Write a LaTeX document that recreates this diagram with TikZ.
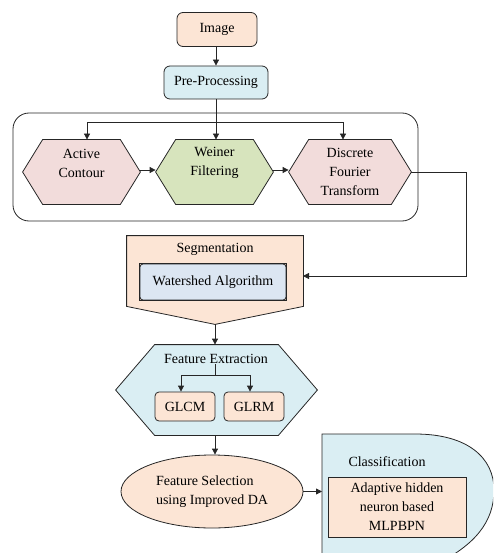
\documentclass[tikz,border=0pt]{standalone}
\usepackage{fontspec}
\setmainfont{Liberation Serif}
\usetikzlibrary{arrows.meta,shapes.geometric}
\definecolor{peach}{HTML}{FCE5D5}
\definecolor{lblue}{HTML}{DAEEF3}
\definecolor{hpink}{HTML}{F2DCDB}
\definecolor{hgreen}{HTML}{D7E4BD}
\definecolor{wsblue}{HTML}{DCE6F2}
\definecolor{edge}{HTML}{262626}
\newcommand\hexa[3]{\draw[fill=#3] (#1.west) -- ([xshift=#2pt]#1.north west) -- ([xshift=-#2pt]#1.north east) -- (#1.east) -- ([xshift=-#2pt]#1.south east) -- ([xshift=#2pt]#1.south west) -- cycle;}
\tikzset{
  base/.style={draw=edge, line width=0.8pt, align=center, inner sep=0pt},
  rbox/.style={base, rounded corners=6pt},
  holder/.style={inner sep=0pt, minimum width=#1},
  lbl/.style={inner sep=0pt, align=center},
  arr/.style={-{Triangle[length=6pt,width=6pt]}, line width=0.8pt, draw=edge},
}
\begin{document}
\begin{tikzpicture}[x=1pt,y=-1pt, font=\fontsize{14}{19}\selectfont, line width=0.8pt, draw=edge]
\useasboundingbox (0,0) rectangle (493,553);
\clip (0,0) rectangle (493,553);

% top
\node[rbox, fill=peach, minimum width=80pt, minimum height=34pt] (img) at (217,29.5) {Image};
\node[rbox, fill=lblue, minimum width=104pt, minimum height=33pt] (pre) at (216,82.5) {Pre-Processing};
\draw[arr] (img.south -| pre.north) -- (pre.north);

% group
\node[draw=edge, rounded corners=16pt, minimum width=405pt, minimum height=108pt, inner sep=0pt] (grp) at (215.5,167) {};

% hexagons
\node[inner sep=0pt, minimum width=117pt, minimum height=64pt] (ac) at (81.5,172) {};
\node[inner sep=0pt, minimum width=117pt, minimum height=64pt] (wf) at (214.5,172) {};
\node[inner sep=0pt, minimum width=122pt, minimum height=64pt] (dft) at (350,172) {};
\hexa{ac}{20}{hpink}
\hexa{wf}{20}{hgreen}
\hexa{dft}{20}{hpink}
\node[lbl] (act) at (81.5,163) {Active\\Contour};
\node[lbl] (wft) at (214.5,163) {Weiner\\Filtering};
\node[lbl] (dftt) at (350,172) {Discrete\\Fourier\\Transform};

\coordinate (j) at (216,122);
\draw (pre.south) -- (j);
\draw[arr] (j) -- (j |- wf.north);
\draw[arr] (j) -| ([xshift=5.5pt]ac.north);
\draw[arr] (j) -| ([xshift=-7pt]dft.north);
\draw[arr] ([yshift=2pt]ac.east) -- ([yshift=2pt]wf.west);
\draw[arr] ([yshift=2pt]wf.east) -- ([yshift=2pt]dft.west);

% segmentation
\node[inner sep=0pt, minimum width=176pt, minimum height=88pt] (seg) at (215,280) {};
\draw[fill=peach] (seg.north west) -- (seg.north east) -- ([yshift=18pt]seg.south east) -- (seg.south) -- ([yshift=18pt]seg.south west) -- cycle;
\node[lbl] (segt) at (215,249) {Segmentation};
\node[draw=edge, rounded corners=3pt, fill=wsblue, minimum width=146pt, minimum height=36pt, inner sep=0pt] (ws) at (213,282) {Watershed Algorithm};
\draw[line width=0.6pt] (ws.north west) rectangle (ws.south east);

\coordinate (k1) at (466,276);
\coordinate (segin) at (303,276);
\draw[arr] (dft.east) -| (k1) -- (segin);

% feature extraction
\node[inner sep=0pt, minimum width=201pt, minimum height=90pt] (fe) at (216.5,390) {};
\hexa{fe}{39}{lblue}
\node[lbl] (fet) at (216,359) {Feature Extraction};
\node[rbox, rounded corners=4pt, fill=peach, minimum width=60pt, minimum height=29pt] (glcm) at (185,406.5) {GLCM};
\node[rbox, rounded corners=4pt, fill=peach, minimum width=60pt, minimum height=29pt] (glrm) at (254,406.5) {GLRM};
\coordinate (jf) at (215,375);
\draw (jf |- fet.south) -- (jf);
\draw[arr] (jf) -| ([xshift=-4pt]glcm.north);
\draw[arr] (jf) -| ([xshift=-4pt]glrm.north);
\draw[arr] (seg.south) -- (seg.south |- fe.north);

% feature selection
\node[draw=edge, ellipse, fill=peach, minimum width=182pt, minimum height=73pt, align=left, inner sep=0pt] (fs) at (212,491.5) {Feature Selection\\using Improved DA};
\draw[arr] (seg.south |- fe.south) -- (seg.south |- fs.north);

% classification
\draw[fill=lblue] (322,580) -- (322,434) -- (415,434) .. controls (468,434) and (494,458) .. (494,490) .. controls (494,522) and (475,545) .. (435,565) -- (420,580) -- cycle;
\coordinate (clsw) at (322,491.5);
\draw[arr] (fs.east) -- (clsw);
\node[lbl] (clst) at (387,462) {Classification};
\node[draw=edge, fill=peach, minimum width=138pt, minimum height=60pt, inner sep=0pt, align=center] (mlp) at (397,507) {Adaptive hidden\\neuron based\\MLPBPN};
\end{tikzpicture}
\end{document}
